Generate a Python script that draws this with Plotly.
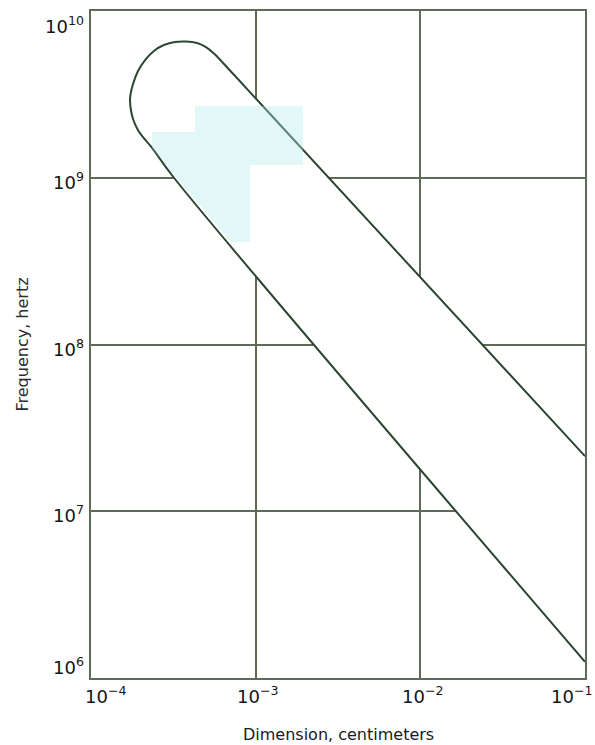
import math
import plotly.graph_objects as go

# Outline of the operating band (dimension in cm, frequency in Hz),
# running from the right edge along the upper boundary, round the
# rounded end near 1e-4 cm, and back down the lower boundary.
dimension_cm = [
    1.0e-1, 9.59e-4, 6.98e-4, 5.58e-4, 4.99e-4, 4.40e-4, 3.77e-4,
    3.24e-4, 2.77e-4, 2.41e-4, 2.13e-4, 1.93e-4, 1.80e-4, 1.73e-4,
    1.74e-4, 1.80e-4, 1.92e-4, 2.10e-4, 2.35e-4, 3.19e-4, 1.0e-1,
]
frequency_hz = [
    2.14e7, 3.13e9, 4.40e9, 5.56e9, 6.08e9, 6.43e9, 6.56e9,
    6.52e9, 6.25e9, 5.76e9, 5.08e9, 4.37e9, 3.65e9, 3.05e9,
    2.62e9, 2.25e9, 1.95e9, 1.72e9, 1.51e9, 1.0e9, 1.25e6,
]

x_tick_vals = [1e-4, 1e-3, 1e-2, 1e-1]
x_tick_text = ["10<sup>\u22124</sup>", "10<sup>\u22123</sup>",
               "10<sup>\u22122</sup>", "10<sup>\u22121</sup>"]
y_tick_vals = [1e6, 1e7, 1e8, 1e9, 1e10]
y_tick_text = ["10<sup>6</sup>", "10<sup>7</sup>", "10<sup>8</sup>",
               "10<sup>9</sup>", "10<sup>10</sup>"]

x_title = "Dimension, centimeters"
y_title = "Frequency, hertz"

GRID = "#606b57"
LINE = "#2c4632"
FONT = "DejaVu Sans"
TICK_FONT = dict(family=FONT, size=18, color="#141414")

fig = go.Figure()
fig.add_trace(go.Scatter(
    x=dimension_cm, y=frequency_hz,
    mode="lines",
    line=dict(color=LINE, width=2, shape="spline", smoothing=1.0),
    fill="toself", fillcolor="white",
    hoverinfo="skip", showlegend=False,
))

# pale cyan tint across the upper part of the band (paper coordinates)
fig.add_shape(
    type="path", xref="paper", yref="paper", layer="above",
    path=("M 0.1235 0.8186 L 0.2105 0.8186 L 0.2105 0.8576 L 0.4291 0.8576 "
          "L 0.4291 0.7691 L 0.3219 0.7691 L 0.3219 0.6537 L 0.2834 0.6537 "
          "L 0.1235 0.7946 Z"),
    fillcolor="rgba(175,234,234,0.36)", line=dict(width=0),
)

axis_common = dict(
    type="log",
    showgrid=True, gridcolor=GRID, gridwidth=1.6,
    showline=True, linecolor=GRID, linewidth=1.8, mirror=True,
    ticks="", zeroline=False, showticklabels=False,
)
fig.update_xaxes(**axis_common, range=[-4, -1], tickvals=x_tick_vals)
fig.update_yaxes(**axis_common, range=[6, 10], tickvals=y_tick_vals)

annotations = []
# x tick labels (annotation positions on log axes are given as log10);
# the end labels are pulled inside the frame
for i, (v, t) in enumerate(zip(x_tick_vals, x_tick_text)):
    shift = 14 if i == 0 else (-14 if i == len(x_tick_vals) - 1 else 2)
    annotations.append(dict(
        x=math.log10(v), xref="x", y=0, yref="paper", text=t,
        showarrow=False, xanchor="center", yanchor="middle",
        xshift=shift, yshift=-17, font=TICK_FONT,
    ))
# y tick labels; the end labels sit inside the axis range
for i, (v, t) in enumerate(zip(y_tick_vals, y_tick_text)):
    if i == 0:
        anchor, dy = "bottom", -2
    elif i == len(y_tick_vals) - 1:
        anchor, dy = "top", 0
    else:
        anchor, dy = "middle", -3
    annotations.append(dict(
        x=0, xref="paper", y=math.log10(v), yref="y", text=t,
        showarrow=False, xanchor="right", yanchor=anchor,
        xshift=-5, yshift=dy, font=TICK_FONT,
    ))
# axis titles
annotations.append(dict(
    x=0.5, xref="paper", y=0, yref="paper", text=x_title, showarrow=False,
    xanchor="center", yanchor="middle", yshift=-56,
    font=dict(family=FONT, size=16, color="#1a1a1a"),
))
annotations.append(dict(
    x=0, xref="paper", y=0.5, yref="paper", text=y_title, showarrow=False,
    xanchor="center", yanchor="middle", xshift=-69, textangle=-90,
    font=dict(family=FONT, size=16, color="#2e2e2e"),
))

fig.update_layout(
    width=595, height=745,
    margin=dict(l=91, r=10, t=11, b=67, autoexpand=False),
    paper_bgcolor="white", plot_bgcolor="white",
    annotations=annotations,
)

fig.write_html("out.html")
